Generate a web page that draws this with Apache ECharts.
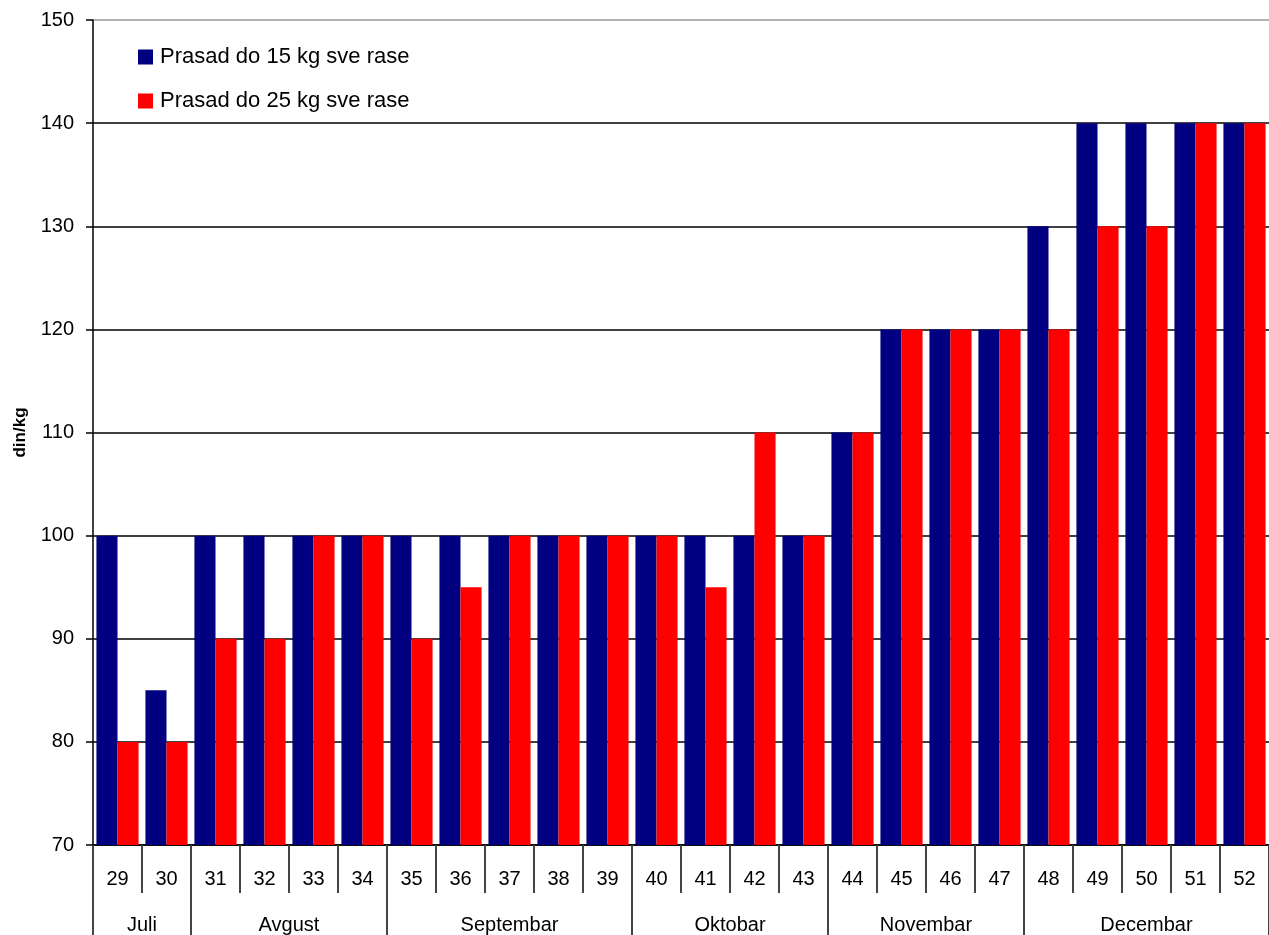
<!DOCTYPE html>
<html>
<head>
<meta charset="utf-8">
<script src="https://cdn.jsdelivr.net/npm/echarts@6/dist/echarts.min.js"></script>
<style>
html,body{margin:0;padding:0;background:#fff;}
#chart{width:1269px;height:935px;}
</style>
</head>
<body>
<div id="chart"></div>
<script>
const weeks = ['29','30','31','32','33','34','35','36','37','38','39','40','41','42','43','44','45','46','47','48','49','50','51','52'];
const months = [['Juli',2],['Avgust',4],['Septembar',5],['Oktobar',4],['Novembar',4],['Decembar',5]];
const piglets15 = [100,85,100,100,100,100,100,100,100,100,100,100,100,100,100,110,120,120,120,130,140,140,140,140];
const piglets25 = [80,80,90,90,100,100,90,95,100,100,100,100,95,110,100,110,120,120,120,120,130,130,140,140];
const seriesNames = ['Prasad do 15 kg sve rase','Prasad do 25 kg sve rase'];
const yTicks = {min:70, max:150, interval:10};

// Month axis: half-category points (boundaryGap false), labels at month centers, ticks at boundaries
const monthPoints = new Array(weeks.length*2+1).fill('');
const boundaries = new Set([0]);
let pos = 0;
months.forEach(([name, span]) => {
  monthPoints[pos*2 + span] = name;
  pos += span;
  boundaries.add(pos*2);
});

const FONT = '"Liberation Sans", Arial, sans-serif';
const chart = echarts.init(document.getElementById('chart'));
chart.setOption({
  animation:false,
  backgroundColor:'#ffffff',
  textStyle:{fontFamily:FONT},
  grid:{left:93,right:0,top:20,bottom:90,containLabel:false,outerBoundsMode:'none'},
  legend:{
    orient:'vertical', left:133, top:41, itemWidth:15, itemHeight:15, itemGap:22,
    icon:'rect', textStyle:{fontSize:22,color:'#000',fontFamily:FONT,padding:[0,0,0,2]},
    data:seriesNames
  },
  xAxis:[{
    type:'category', data:weeks, position:'bottom',
    axisLine:{show:true,lineStyle:{color:'#000',width:1.5}},
    axisTick:{show:true,alignWithLabel:false,length:48,lineStyle:{color:'#444',width:2}},
    axisLabel:{fontSize:20,color:'#000',margin:24,interval:0,fontFamily:FONT},
    splitLine:{show:false}
  },{
    type:'category', data:monthPoints, position:'bottom', boundaryGap:false, offset:0,
    axisLine:{show:false},
    axisTick:{show:true,length:92,interval:(i)=>boundaries.has(i),lineStyle:{color:'#444',width:2}},
    axisLabel:{fontSize:20,color:'#000',margin:70,interval:(i,v)=>v!=='',fontFamily:FONT},
    splitLine:{show:false}
  }],
  yAxis:{
    type:'value', min:yTicks.min, max:yTicks.max, interval:yTicks.interval,
    name:'din/kg', nameLocation:'middle', nameGap:64, nameRotate:90,
    nameTextStyle:{fontSize:17,fontWeight:'bold',color:'#000',fontFamily:FONT},
    axisLine:{show:true,lineStyle:{color:'#000',width:1.5}},
    axisTick:{show:true,length:7,lineStyle:{color:'#000',width:1.5}},
    axisLabel:{fontSize:20,color:'#000',margin:19,fontFamily:FONT},
    splitLine:{show:true,lineStyle:{color:['#000','#000','#000','#000','#000','#000','#000','#000','#999'],width:1.5}}
  },
  series:[{
    name:seriesNames[0], type:'bar', data:piglets15, xAxisIndex:0,
    itemStyle:{color:'#000080'}, barGap:'0%', barCategoryGap:'14%'
  },{
    name:seriesNames[1], type:'bar', data:piglets25, xAxisIndex:0,
    itemStyle:{color:'#ff0000'}, barGap:'0%', barCategoryGap:'14%'
  }]
});
</script>
</body>
</html>
